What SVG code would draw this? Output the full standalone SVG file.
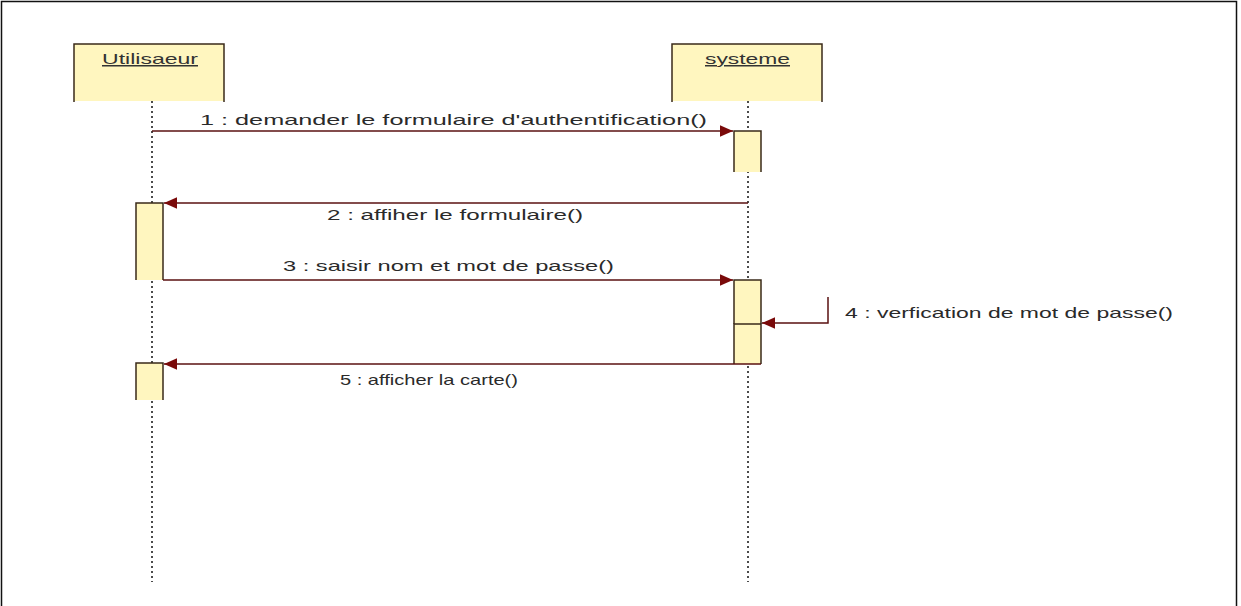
<svg xmlns="http://www.w3.org/2000/svg" width="1241" height="606" viewBox="0 0 1241 606">
<style>
.fill{fill:#fff6bf;stroke:none}
.edge{fill:none;stroke:#3a2a1a;stroke-width:1.5}
.life{stroke:#111;stroke-width:1.5;stroke-dasharray:2,3;fill:none}
.msg{stroke:#5a1010;stroke-width:1.5;fill:none}
.lbl{font-family:"Liberation Sans",Arial,sans-serif;font-size:15px;fill:#2a2a2a}
.name{font-family:"Liberation Sans",Arial,sans-serif;font-size:15px;fill:#333;text-decoration:underline}
</style>
<defs>
<marker id="ah" viewBox="0 0 10 10" refX="10" refY="5" markerWidth="22" markerHeight="13" markerUnits="userSpaceOnUse" orient="auto">
<path d="M0,0.5 L10,5 L0,9.5 z" fill="#7a0a0a"/>
</marker>
</defs>
<rect x="0" y="0" width="1241" height="606" fill="#fff"/>
<rect x="1.5" y="1.5" width="1235" height="640" fill="none" stroke="#111" stroke-width="1.5"/>
<g id="lifelines">
<line class="life" x1="152" y1="101" x2="152" y2="582"/>
<line class="life" x1="748" y1="101" x2="748" y2="582"/>
</g>
<g id="utilisateur">
<rect class="fill" x="74" y="44" width="150" height="57"/>
<path class="edge" d="M74,102 V44 H224 V102"/>
<text class="name" x="102" y="64" textLength="96" lengthAdjust="spacingAndGlyphs">Utilisaeur</text>
</g>
<g id="systeme">
<rect class="fill" x="672" y="44" width="150" height="57"/>
<path class="edge" d="M672,102 V44 H822 V102"/>
<text class="name" x="705" y="64" textLength="85" lengthAdjust="spacingAndGlyphs">systeme</text>
</g>
<g id="activations">
<rect class="fill" x="734" y="131" width="27" height="41"/>
<path class="edge" d="M734,172 V131 H761 V172"/>
<rect class="fill" x="136" y="203" width="27" height="77"/>
<path class="edge" d="M136,280 V203 H163 V280"/>
<rect class="fill" x="734" y="280" width="27" height="44"/>
<path class="edge" d="M734,324 V280 H761 V324"/>
<rect class="fill" x="734" y="324" width="27" height="40"/>
<path class="edge" d="M734,364 V324 H761 V364"/>
<rect class="fill" x="136" y="363" width="27" height="37"/>
<path class="edge" d="M136,400 V363 H163 V400"/>
</g>
<g id="connectors">
<line class="msg" x1="152" y1="131" x2="733" y2="131" marker-end="url(#ah)"/>
<line class="msg" x1="748" y1="203" x2="164" y2="203" marker-end="url(#ah)"/>
<line class="msg" x1="163" y1="280" x2="733" y2="280" marker-end="url(#ah)"/>
<polyline class="msg" points="828,297 828,323 762,323" marker-end="url(#ah)"/>
<line class="msg" x1="761" y1="364" x2="164" y2="364" marker-end="url(#ah)"/>
</g>
<g id="labels">
<text class="lbl" x="200" y="125" textLength="507" lengthAdjust="spacingAndGlyphs">1 : demander le formulaire d'authentification()</text>
<text class="lbl" x="327" y="220" textLength="256" lengthAdjust="spacingAndGlyphs">2 : affiher le formulaire()</text>
<text class="lbl" x="283" y="271" textLength="331" lengthAdjust="spacingAndGlyphs">3 : saisir nom et mot de passe()</text>
<text class="lbl" x="845" y="318" textLength="328" lengthAdjust="spacingAndGlyphs">4 : verfication de mot de passe()</text>
<text class="lbl" x="340" y="385" textLength="178" lengthAdjust="spacingAndGlyphs">5 : afficher la carte()</text>
</g>
</svg>
